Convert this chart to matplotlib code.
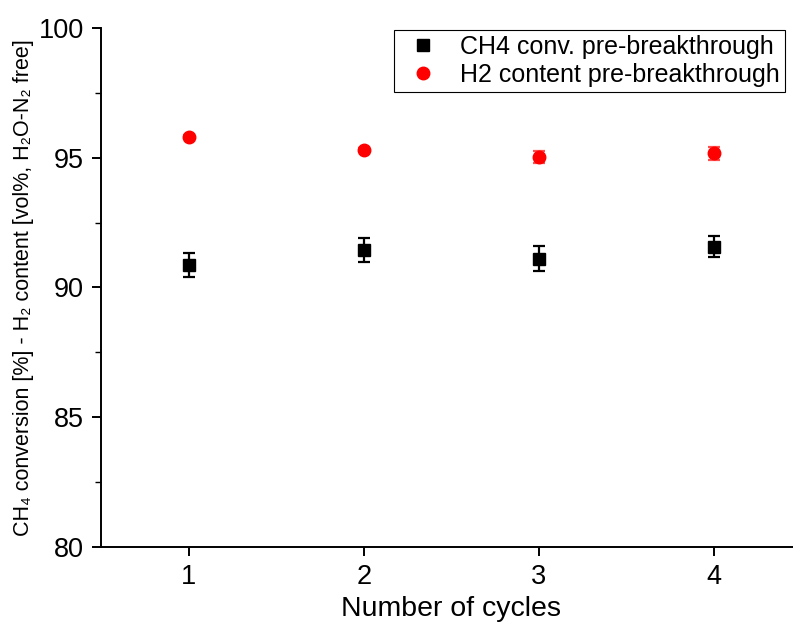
import matplotlib.pyplot as plt
from matplotlib.ticker import MultipleLocator

plt.rcParams['font.family'] = ['Liberation Sans', 'DejaVu Sans']

cycles = [1, 2, 3, 4]
ch4_conv = [90.86, 91.44, 91.10, 91.57]
ch4_err = [0.46, 0.47, 0.48, 0.41]
h2_content = [95.81, 95.31, 95.03, 95.18]
h2_err = [0.05, 0.05, 0.22, 0.25]

labels = ["CH4 conv. pre-breakthrough", "H2 content pre-breakthrough"]


def main():
    fig = plt.figure(figsize=(7.93, 6.26), dpi=100)
    W, H = 793, 626
    ax = fig.add_axes([101 / W, 1 - 547 / H, 700.5 / W, 519 / H])

    ax.errorbar(cycles, ch4_conv, yerr=ch4_err, fmt="none", ecolor="black",
                elinewidth=1.6, capsize=4, capthick=1.6)
    ax.errorbar(cycles, h2_content, yerr=h2_err, fmt="none", ecolor="#ff5050",
                elinewidth=1.6, capsize=4, capthick=1.6)
    ax.plot(cycles, ch4_conv, "s", color="black", markersize=8, label=labels[0])
    ax.plot(cycles, h2_content, "o", color="red", markersize=9, label=labels[1])

    ax.set_xlim(0.5, 4.5)
    ax.set_ylim(80, 100)
    ax.xaxis.set_major_locator(MultipleLocator(1))
    ax.yaxis.set_major_locator(MultipleLocator(5))
    ax.yaxis.set_minor_locator(MultipleLocator(2.5))

    for s in ["top", "right"]:
        ax.spines[s].set_visible(False)
    for s in ["left", "bottom"]:
        ax.spines[s].set_linewidth(1.4)

    ax.tick_params(which="major", direction="out", length=6.5, width=1.4,
                   labelsize=19.5, pad=6)
    ax.tick_params(axis="y", which="minor", direction="out", length=4, width=1.0)

    ax.set_xlabel("Number of cycles", fontsize=20.5, labelpad=4)
    ax.set_ylabel("CH\u2084 conversion [%] - H\u2082 content [vol%, H\u2082O-N\u2082 free]",
                  fontsize=15.5, labelpad=3)

    leg = ax.legend(loc="upper right", bbox_to_anchor=(785 / W, 1 - 30 / H),
                    bbox_transform=fig.transFigure, borderaxespad=0,
                    fontsize=18, fancybox=False, edgecolor="black",
                    framealpha=1, handletextpad=0.55, borderpad=0.2,
                    labelspacing=0.15, handlelength=1.9)
    leg.get_frame().set_linewidth(0.8)

    plt.savefig("out.png", dpi=100)


if __name__ == "__main__":
    main()
